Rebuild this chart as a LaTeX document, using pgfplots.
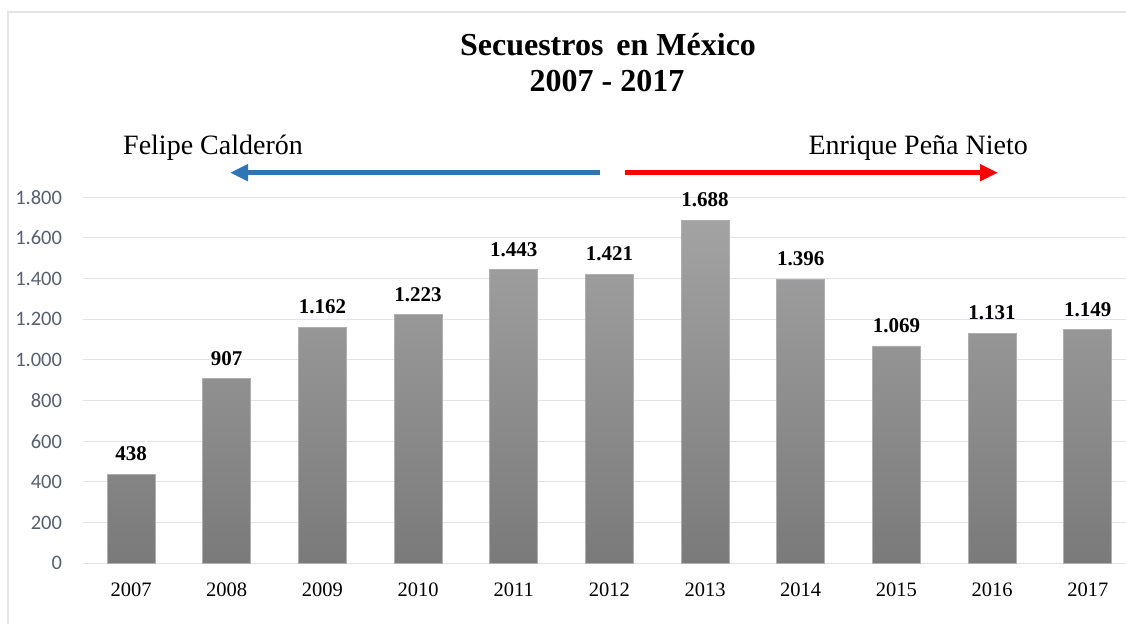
\documentclass[border=0pt]{standalone}
\usepackage{pgfplots}
\pgfplotsset{compat=1.18}
\usepackage{fontspec}
\setmainfont{Liberation Serif}
\newfontfamily\calibri{Carlito}
\usetikzlibrary{arrows.meta}
\definecolor{bartop}{RGB}{163,163,163}
\definecolor{barbot}{RGB}{122,122,122}
\definecolor{baredge}{RGB}{175,175,175}
\definecolor{gridc}{RGB}{226,228,234}
\definecolor{ytxt}{RGB}{88,96,112}
\definecolor{arrblue}{RGB}{46,117,182}
\definecolor{frame}{RGB}{228,228,228}
\begin{document}
\begin{tikzpicture}[x=1pt,y=1pt]
\useasboundingbox (0,0) rectangle (1126,624);
\fill[white] (0,0) rectangle (1126,624);
\draw[frame, line width=2pt] (8,0) -- (8,612) -- (1126,612);
\begin{axis}[
  at={(83.2pt,60.7pt)}, anchor=south west,
  scale only axis, width=1042.8pt, height=366pt,
  xmin=-0.5, xmax=10.4, ymin=0, ymax=1800,
  ytick={0,200,...,1800},
  xtick={0,...,10},
  xticklabels={2007,2008,2009,2010,2011,2012,2013,2014,2015,2016,2017},
  axis line style={draw=none},
  major tick length=0pt,
  ymajorgrids, grid style={gridc, line width=1pt},
  /pgf/number format/.cd, 1000 sep={.}, assume math mode=true, /pgfplots/.cd,
  yticklabel style={font=\calibri\fontsize{20.5}{24}\selectfont, text=ytxt, inner sep=0pt, anchor=east, xshift=-21pt},
  xticklabel style={font=\fontsize{20.5}{24}\selectfont, text=black, inner sep=0pt, anchor=north, yshift=-19pt},
  clip=false,
]
\addplot[ybar, bar width=48pt, draw=baredge, line width=0.8pt, top color=bartop, bottom color=barbot,
  nodes near coords,
  every node near coord/.append style={anchor=base, yshift=13.5pt, inner sep=0pt, text=black, font=\bfseries\fontsize{21}{24}\selectfont}]
coordinates {(0,438) (1,907) (2,1162) (3,1223) (4,1443) (5,1421) (6,1688) (7,1396) (8,1069) (9,1131) (10,1149)};
\end{axis}
\node[anchor=base, inner sep=0pt, font=\bfseries\fontsize{32}{36}\selectfont] at (608,568) {Secuestros\kern5pt{} en México};
\node[anchor=base, inner sep=0pt, font=\bfseries\fontsize{32}{36}\selectfont] at (607,532) {2007 - 2017};
\node[anchor=base west, inner sep=0pt, font=\fontsize{28}{32}\selectfont] at (123,469) {Felipe Calderón};
\node[anchor=base east, inner sep=0pt, font=\fontsize{28}{32}\selectfont] at (1028,469) {Enrique Peña Nieto};
\draw[arrblue, line width=5pt, -{Triangle[length=18pt,width=16pt]}] (600,451.3) -- (230,451.3);
\draw[red, line width=5pt, -{Triangle[length=18pt,width=16pt]}] (625,451.3) -- (998,451.3);
\end{tikzpicture}
\end{document}
